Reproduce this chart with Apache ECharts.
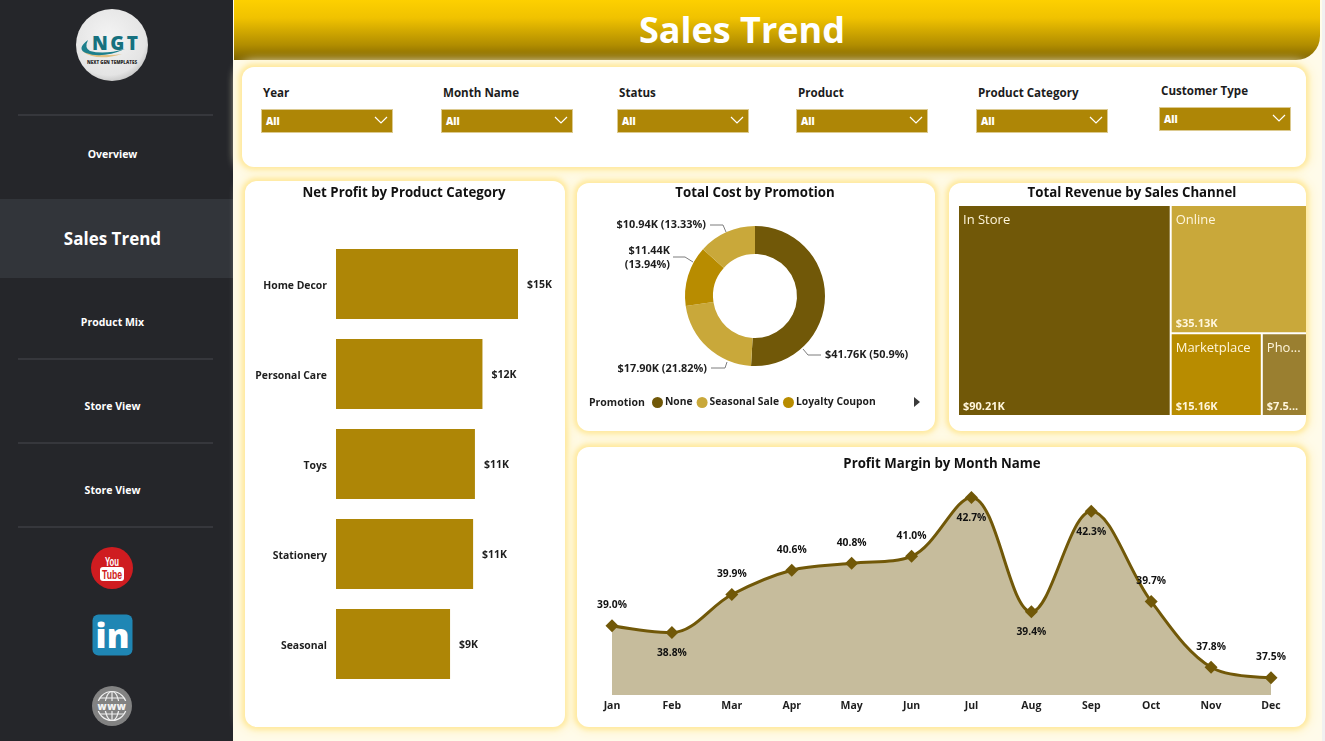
<!DOCTYPE html>
<html>
<head>
<meta charset="utf-8">
<title>Sales Trend</title>
<script src="https://cdn.jsdelivr.net/npm/echarts@6/dist/echarts.min.js"></script>
<style>
  * { box-sizing: border-box; }
  html, body { margin: 0; width: 1325px; height: 741px; overflow: hidden; background: #fffbea; font-family: "Open Sans", sans-serif; }
  .edge { position: absolute; left: 1322px; top: 0; width: 3px; height: 741px; background: #f1f1f1; }
  .side { position: absolute; left: 0; top: 0; width: 233px; height: 741px; background: #25262a; color: #fff; }
  .side .active { position: absolute; left: 0; top: 199px; width: 233px; height: 79px; background: #32353a; }
  .side .rule { position: absolute; left: 18px; width: 195px; height: 2px; background: #36373c; }
  .side .nav { position: absolute; left: 0; width: 225px; text-align: center; font-size: 10.5px; font-weight: 700; line-height: 16px; }
  .side .nav.big { font-size: 17px; line-height: 24px; }
  .side svg { position: absolute; }
  .head { position: absolute; left: 234px; top: 0; width: 1086px; height: 60px; border-bottom-right-radius: 24px; padding-right: 70px;
          background: linear-gradient(#fdd000 0%, #f0c200 30%, #b18d00 75%, #7f6400 100%);
          color: #fff; text-align: center; font-size: 36px; font-weight: 700; line-height: 60px; }
  .panel { position: absolute; background: #fff; border-radius: 12px; box-shadow: 0 0 4px 3px #ffeaa0, 0 0 10px 6px #fff5d0; }
  .slicer { position: absolute; font-size: 11.6px; font-weight: 700; color: #1c1c1c; }
  .slicer .name { position: absolute; left: 2px; top: -6px; line-height: 16px; white-space: nowrap; }
  .slicer .box { position: absolute; left: 0; top: 18px; width: 132px; height: 24px; background: #ae8606; border: 1.5px solid #dcca90;
                 color: #fff; font-size: 10px; font-weight: 800; line-height: 22px; padding-left: 4px; }
  .slicer svg { position: absolute; right: 4px; top: 5px; }
  #chart { position: absolute; left: 0; top: 0; width: 1325px; height: 741px; }
  .more { position: absolute; left: 914px; top: 397px; width: 0; height: 0; border-left: 6px solid #3a3a3a; border-top: 5px solid transparent; border-bottom: 5px solid transparent; }
</style>
</head>
<body>
<div class="edge"></div>
<div class="side">
  <svg style="left:74px;top:7px" width="76" height="76" viewBox="0 0 76 76">
    <defs>
      <radialGradient id="disc" cx="45%" cy="40%" r="65%"><stop offset="0" stop-color="#f4f4f4"/><stop offset="0.8" stop-color="#e4e4e4"/><stop offset="1" stop-color="#bdbdbd"/></radialGradient>
    </defs>
    <circle cx="38" cy="38" r="36" fill="url(#disc)"/>
    <path d="M8 44 Q22 55 48 47 Q28 50 8 44 Z" fill="#e3c184"/>
    <path d="M14 33 Q2 42 12 46 Q28 52 51 42 Q30 48 16 44 Q10 41 14 33 Z" fill="#1d7f8c"/>
    <text x="18" y="43" textLength="46" lengthAdjust="spacing" font-family="Open Sans" font-weight="800" font-size="19" fill="#16717f">NGT</text>
    <text x="13" y="57" textLength="50" lengthAdjust="spacingAndGlyphs" font-family="Open Sans" font-weight="800" font-size="4.6" fill="#2c2c2c">NEXT GEN TEMPLATES</text>
  </svg>
  <div class="rule" style="top:114px"></div>
  <div class="nav" style="top:146px">Overview</div>
  <div class="active"></div>
  <div class="nav big" style="top:227px">Sales Trend</div>
  <div class="nav" style="top:314px">Product Mix</div>
  <div class="rule" style="top:358px"></div>
  <div class="nav" style="top:398px">Store View</div>
  <div class="rule" style="top:442px"></div>
  <div class="nav" style="top:482px">Store View</div>
  <div class="rule" style="top:526px"></div>
  <svg style="left:90px;top:546px" width="44" height="44" viewBox="0 0 44 44">
    <circle cx="22" cy="22" r="21" fill="#cf1c20"/>
    <text x="15" y="20" textLength="14" lengthAdjust="spacingAndGlyphs" font-family="Liberation Sans" font-weight="700" font-size="13" fill="#fff">You</text>
    <rect x="10" y="21" width="24" height="14" rx="3" fill="#fff"/>
    <text x="12" y="33" textLength="20" lengthAdjust="spacingAndGlyphs" font-family="Liberation Sans" font-weight="700" font-size="13" fill="#cf1c20">Tube</text>
  </svg>
  <svg style="left:92px;top:614px" width="42" height="42" viewBox="0 0 42 42">
    <rect x="0.5" y="0.5" width="40" height="41" rx="6" fill="#1f86b4"/>
    <text x="20.5" y="34" text-anchor="middle" font-family="Open Sans" font-weight="800" font-size="34" fill="#fff">in</text>
  </svg>
  <svg style="left:91px;top:685px" width="42" height="42" viewBox="0 0 42 42">
    <circle cx="21" cy="21" r="20" fill="#828282"/>
    <g fill="none" stroke="#efefef" stroke-width="1.2">
      <circle cx="21" cy="21" r="14.5"/>
      <ellipse cx="21" cy="21" rx="7" ry="14.5"/>
      <path d="M21 6.5V35.5M9 13H33M9 29H33"/>
    </g>
    <rect x="5" y="16" width="32" height="10" fill="#828282"/>
    <text x="21" y="25" text-anchor="middle" font-family="Open Sans" font-weight="800" font-size="10" letter-spacing="0.5" fill="#f2f2f2">www</text>
  </svg>
</div>

<div class="head">Sales Trend</div>

<div class="panel" style="left:242px;top:67px;width:1064px;height:100px"></div>
<div class="panel" style="left:245px;top:181px;width:320px;height:546px"></div>
<div class="panel" style="left:577px;top:183px;width:358px;height:248px"></div>
<div class="panel" style="left:949px;top:183px;width:357px;height:248px"></div>
<div class="panel" style="left:577px;top:447px;width:729px;height:280px"></div>

<div id="slicers"></div>
<div id="chart"></div>
<div class="more"></div>

<script>
// Filter bar
const slicerNames = ['Year', 'Month Name', 'Status', 'Product', 'Product Category', 'Customer Type'];
const slicerValue = 'All';

// Net profit by product category
const productCategories = ['Home Decor', 'Personal Care', 'Toys', 'Stationery', 'Seasonal'];
const netProfit = [15000, 12070, 11450, 11300, 9400];

// Total cost by promotion, in thousands of dollars
const promotions = ['None', 'Seasonal Sale', 'Loyalty Coupon', 'Other'];
const promotionCost = [41.76, 17.90, 11.44, 10.94];
const promotionLegend = ['None', 'Seasonal Sale', 'Loyalty Coupon'];

// Total revenue by sales channel, in thousands of dollars
const salesChannels = ['In Store', 'Online', 'Marketplace', 'Phone'];
const channelRevenue = [90.21, 35.13, 15.16, 7.52];

// Profit margin by month, in percent
const months = ['Jan', 'Feb', 'Mar', 'Apr', 'May', 'Jun', 'Jul', 'Aug', 'Sep', 'Oct', 'Nov', 'Dec'];
const profitMargin = [39.0, 38.8, 39.9, 40.6, 40.8, 41.0, 42.7, 39.4, 42.3, 39.7, 37.8, 37.5];
const marginLabelsBelow = ['Feb', 'Jul', 'Aug', 'Sep'];

const DARK = '#715808', GOLD = '#ae8606', SAND = '#c9a83a', AMBER = '#b88c00', OLIVE = '#9a7f30';
const INK = '#1e1e1e', FONT = '"Open Sans", sans-serif';

// Slicer positions along the filter bar
const slicerHost = document.getElementById('slicers');
const slicerSpots = [[261, 91], [441, 91], [617, 91], [796, 91], [976, 91], [1159, 89]];
slicerNames.forEach((name, i) => {
  const el = document.createElement('div');
  el.className = 'slicer';
  el.style.left = slicerSpots[i][0] + 'px';
  el.style.top = slicerSpots[i][1] + 'px';
  el.innerHTML = '<div class="name">' + name + '</div><div class="box">' + slicerValue +
    '<svg width="14" height="10" viewBox="0 0 14 10"><path d="M1 2 L7 8 L13 2" fill="none" stroke="#fff" stroke-width="1.2"/></svg></div>';
  slicerHost.appendChild(el);
});

const panelTitle = (text, centre, top) => ({
  text, left: centre, top, textAlign: 'center', padding: 0,
  textStyle: { fontFamily: FONT, fontSize: 13.25, fontWeight: 700, color: '#111' }
});

const costTotal = promotionCost.reduce((a, b) => a + b, 0);
const costLabel = (value, index) => {
  const share = parseFloat((value / costTotal * 100).toFixed(2));
  return '$' + value.toFixed(2) + 'K' + (index === 2 ? '\n' : ' ') + '(' + share + '%)';
};
// Callout placement for the doughnut: text anchor, alignment and leader line
const costCallouts = [
  { x: 825, y: 355, align: 'left', line: [[803, 349], [808, 355], [821, 355]] },
  { x: 707, y: 369, align: 'right', line: [[727, 362], [725, 368], [711, 368]] },
  { x: 670, y: 258, align: 'right', line: [[693, 262], [685, 257], [673, 257]] },
  { x: 706, y: 225, align: 'right', line: [[726, 232], [723, 225], [710, 225]] }
];
const channelColors = [DARK, SAND, AMBER, OLIVE];

const chart = echarts.init(document.getElementById('chart'), null, { renderer: 'canvas' });
chart.setOption({
  animation: false,
  backgroundColor: 'transparent',
  title: [
    panelTitle('Net Profit by Product Category', 404, 187),
    panelTitle('Total Cost by Promotion', 755, 187),
    panelTitle('Total Revenue by Sales Channel', 1132, 187),
    panelTitle('Profit Margin by Month Name', 942, 458),
    { text: 'Promotion', left: 589, top: 398, padding: 0, textStyle: { fontFamily: FONT, fontSize: 10.5, fontWeight: 700, color: INK } }
  ],
  legend: {
    data: promotionLegend, left: 652, top: 397, icon: 'circle', itemWidth: 11, itemHeight: 11, itemGap: 4,
    selectedMode: false, padding: 0,
    textStyle: { fontFamily: FONT, fontSize: 10.3, fontWeight: 700, color: INK, padding: [1, 0, 0, -3] }
  },
  grid: [
    { left: 336, top: 239, width: 242.67, height: 450, containLabel: false },
    { left: 612, top: 487, width: 659, height: 208, containLabel: false }
  ],
  xAxis: [
    { gridIndex: 0, type: 'value', min: 0, max: 20000, show: false },
    { gridIndex: 1, type: 'category', data: months, boundaryGap: false,
      axisLine: { show: false }, axisTick: { show: false },
      axisLabel: { margin: 6, interval: 0, fontFamily: FONT, fontSize: 10.5, fontWeight: 700, color: INK } }
  ],
  yAxis: [
    { gridIndex: 0, type: 'category', data: productCategories, inverse: true,
      axisLine: { show: false }, axisTick: { show: false },
      axisLabel: { margin: 9, fontFamily: FONT, fontSize: 10.4, fontWeight: 700, color: INK, verticalAlign: 'top', lineHeight: 4 } },
    { gridIndex: 1, type: 'value', min: 37, max: 43, show: false }
  ],
  series: [
    {
      type: 'bar', xAxisIndex: 0, yAxisIndex: 0, data: netProfit, barWidth: 70,
      itemStyle: { color: GOLD },
      label: { show: true, position: 'right', distance: 9, offset: [0, 1], fontFamily: FONT, fontSize: 10.5, fontWeight: 700, color: INK,
        formatter: p => '$' + Math.round(p.value / 1000) + 'K' }
    },
    {
      type: 'pie', center: [755, 296], radius: [42, 70], startAngle: 90, clockwise: true,
      data: promotions.map((name, i) => ({ name, value: promotionCost[i] })),
      color: [DARK, SAND, AMBER, SAND],
      itemStyle: { borderWidth: 0 },
      label: { position: 'outside', fontFamily: FONT, fontSize: 10.9, fontWeight: 700, color: INK, lineHeight: 14,
        formatter: p => costLabel(p.value, p.dataIndex) },
      labelLine: { show: true, lineStyle: { color: '#7d7d7d', width: 1 } },
      labelLayout: p => {
        const c = costCallouts[p.dataIndex];
        return { x: c.x, y: c.y, align: c.align, verticalAlign: 'middle', labelLinePoints: c.line };
      }
    },
    {
      type: 'treemap', left: 959, top: 206, width: 347, height: 209,
      roam: false, nodeClick: false, silent: true, breadcrumb: { show: false },
      levels: [{ itemStyle: { gapWidth: 2, borderWidth: 0, borderColor: '#fff' } }],
      data: salesChannels.map((name, i) => ({ name, value: channelRevenue[i], itemStyle: { color: channelColors[i] } })),
      label: { show: true, position: 'insideTopLeft', distance: 0, padding: [8, 4, 0, 4], fontFamily: FONT, fontSize: 13, color: '#fff6dc',
        overflow: 'truncate', ellipsis: '...', formatter: '{b}' }
    },
    {
      type: 'treemap', left: 959, top: 206, width: 347, height: 209,
      roam: false, nodeClick: false, silent: true, breadcrumb: { show: false },
      levels: [{ itemStyle: { gapWidth: 2, borderWidth: 0, borderColor: 'rgba(0,0,0,0)' } }],
      data: salesChannels.map((name, i) => ({ name, value: channelRevenue[i], itemStyle: { color: 'rgba(0,0,0,0)' } })),
      label: { show: true, position: 'insideBottomLeft', distance: 0, padding: [0, 4, 3, 4], fontFamily: FONT, fontSize: 11, fontWeight: 700, color: '#fff6dc',
        overflow: 'truncate', ellipsis: '...', formatter: p => '$' + p.value.toFixed(2) + 'K' }
    },
    {
      type: 'line', xAxisIndex: 1, yAxisIndex: 1, smooth: 0.35,
      data: profitMargin.map((value, i) => ({
        value,
        label: { position: marginLabelsBelow.includes(months[i]) ? 'bottom' : 'top' }
      })),
      symbol: 'diamond', symbolSize: 13,
      lineStyle: { color: DARK, width: 3 },
      itemStyle: { color: DARK },
      areaStyle: { color: DARK, opacity: 0.4 },
      label: { show: true, distance: 9, fontFamily: FONT, fontSize: 10.3, fontWeight: 700, color: '#111',
        formatter: p => p.value.toFixed(1) + '%' }
    }
  ]
});
</script>
</body>
</html>
